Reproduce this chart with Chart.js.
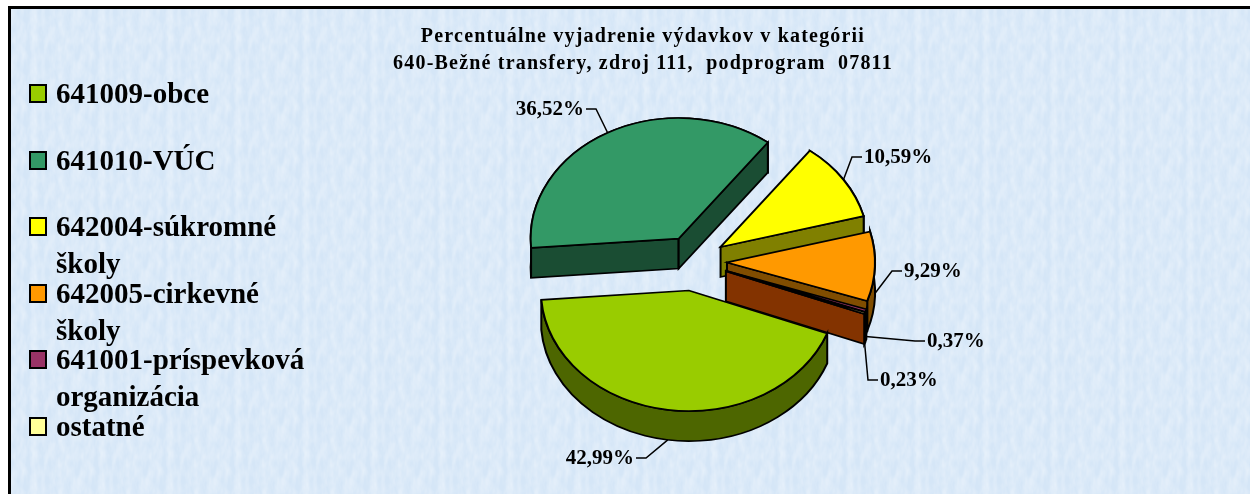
<!DOCTYPE html>
<html lang="sk">
<head>
  <meta charset="UTF-8" />
  <title>Percentuálne vyjadrenie výdavkov</title>
  <script src="https://cdn.jsdelivr.net/npm/chart.js"></script>
  <style>
    html, body { margin: 0; width: 1250px; height: 494px; overflow: hidden; background: #fff; }
    #panel {
      position: absolute; left: 8px; top: 6px; width: 1242px; height: 488px;
      border-left: 3px solid #000; border-top: 3px solid #000;
      background-color: #d5e6f7;
      background-image: url("data:image/svg+xml,%3Csvg xmlns='http://www.w3.org/2000/svg' width='68' height='52'%3E%3Cfilter id='n' x='0' y='0' width='100%25' height='100%25'%3E%3CfeTurbulence type='fractalNoise' baseFrequency='.14 .06' numOctaves='3' seed='4' stitchTiles='stitch'/%3E%3CfeColorMatrix values='0 0 0 0 1 0 0 0 0 1 0 0 0 0 1 .7 0 0 0 -.2'/%3E%3C/filter%3E%3Crect width='68' height='52' filter='url(%23n)'/%3E%3C/svg%3E");
    }
    #legend { position: absolute; left: 0; top: 0; font: bold 29px/37px "Liberation Serif", serif; color: #000; }
    .item { position: absolute; left: 56px; width: 255px; }
    .swatch {
      position: absolute; left: -27px; top: 9px; width: 14px; height: 15px;
      border: 2px solid #000;
    }
  </style>
</head>
<body>
  <div id="panel"></div>
  <canvas id="pie" width="1250" height="494" style="position:absolute;left:0;top:0"></canvas>
  <div id="legend"></div>

  <script>
    const categories = ['641009-obce', '641010-VÚC', '642004-súkromné školy', '642005-cirkevné školy', '641001-príspevková organizácia', 'ostatné'];
    const shares = [42.99, 36.52, 10.59, 9.29, 0.37, 0.23];
    const topColors = ['#99cc00', '#339966', '#ffff00', '#ff9900', '#993366', '#ffff99'];
    const wallColors = ['#4d6600', '#1a4d33', '#808000', '#804d00', '#4d1a33', '#833300'];
    const titleLines = ['Percentuálne vyjadrenie výdavkov v kategórii', '640-Bežné transfery, zdroj 111,  podprogram  07811'];

    // vzhlad kolaca
    const center = { x: 694, y: 261.5 };
    const squash = 0.815;
    const depth = 30;
    const explode = [36, 32, 32, 33, 34, 34];
    const wallOrder = [1, 2, 3, 4, 5, 0];
    // popisky: kotva textu [x, y], smer lomenej ciary a pokles kotvy na stene
    const labelPos = [[634, 458], [584, 109], [864, 157], [904, 271], [927, 341], [880, 380]];
    const labelSide = [1, 1, -1, -1, -1, -1];
    const labelDrop = [30, 0, 0, 27, 26, 30];

    const legendBox = document.getElementById('legend');
    categories.forEach((name, i) => {
      const item = document.createElement('div');
      item.className = 'item';
      item.style.top = (75 + 66.5 * i) + 'px';
      item.textContent = name;
      const sw = document.createElement('span');
      sw.className = 'swatch';
      sw.style.background = topColors[i];
      item.appendChild(sw);
      legendBox.appendChild(item);
    });

    const pie3d = {
      id: 'pie3d',
      beforeDraw(chart) {
        chart.ctx.letterSpacing = '1.2px';
      },
      // rozsunutie vysekov
      afterDatasetsUpdate(chart) {
        chart.getDatasetMeta(0).data.forEach((arc, i) => {
          const mid = (arc.startAngle + arc.endAngle) / 2;
          arc.x = center.x + Math.cos(mid) * explode[i];
          arc.y = center.y + Math.sin(mid) * explode[i];
        });
      },
      beforeDatasetsDraw(chart) {
        const ctx = chart.ctx;
        ctx.letterSpacing = '0px';
        ctx.save();
        ctx.translate(0, center.y);
        ctx.scale(1, squash);
        ctx.translate(0, -center.y);
        const d = depth / squash;
        const arcs = chart.getDatasetMeta(0).data;
        ctx.lineWidth = 2;
        ctx.strokeStyle = '#000';
        ctx.lineJoin = 'miter';
        const cut = (a, t) => {
          const px = a.x + Math.cos(t) * a.outerRadius;
          const py = a.y + Math.sin(t) * a.outerRadius;
          ctx.beginPath();
          ctx.moveTo(a.x, a.y);
          ctx.lineTo(px, py);
          ctx.lineTo(px, py + d);
          ctx.lineTo(a.x, a.y + d);
          ctx.closePath();
          ctx.fill();
          ctx.stroke();
        };
        wallOrder.forEach(i => {
          const a = arcs[i];
          ctx.fillStyle = wallColors[i];
          ctx.beginPath();
          ctx.arc(a.x, a.y, a.outerRadius, a.startAngle, a.endAngle);
          ctx.arc(a.x, a.y + d, a.outerRadius, a.endAngle, a.startAngle, true);
          ctx.closePath();
          ctx.fill();
          ctx.stroke();
          // len rezy otocene k divakovi
          if (Math.cos(a.startAngle) < 0) cut(a, a.startAngle);
          if (Math.cos(a.endAngle) > 0) cut(a, a.endAngle);
        });
      },
      afterDatasetsDraw(chart) {
        const ctx = chart.ctx;
        ctx.restore();
        // odkazove ciary a hodnoty
        const arcs = chart.getDatasetMeta(0).data;
        ctx.save();
        ctx.font = 'bold 21px "Liberation Serif", serif';
        ctx.fillStyle = '#000';
        ctx.textBaseline = 'middle';
        ctx.strokeStyle = '#000';
        ctx.lineWidth = 1.5;
        arcs.forEach((a, i) => {
          const mid = (a.startAngle + a.endAngle) / 2;
          const ax = a.x + Math.cos(mid) * a.outerRadius;
          const ay = center.y + (a.y - center.y + Math.sin(mid) * a.outerRadius) * squash + labelDrop[i];
          const [tx, ty] = labelPos[i];
          const side = labelSide[i];
          ctx.beginPath();
          ctx.moveTo(ax, ay);
          ctx.lineTo(tx + side * 12, ty);
          ctx.lineTo(tx + side * 2, ty);
          ctx.stroke();
          ctx.textAlign = side > 0 ? 'right' : 'left';
          ctx.fillText(shares[i].toFixed(2).replace('.', ',') + '%', tx, ty + 1);
        });
        ctx.restore();
      }
    };

    new Chart(document.getElementById('pie'), {
      type: 'pie',
      data: {
        labels: categories,
        datasets: [{
          data: shares,
          backgroundColor: topColors,
          borderColor: '#000',
          borderWidth: 2,
          borderJoinStyle: 'miter',
          clip: false
        }]
      },
      options: {
        responsive: false,
        animation: false,
        rotation: 110.8,
        radius: 148,
        layout: { padding: { left: 36 } },
        plugins: {
          legend: { display: false },
          tooltip: { enabled: false },
          title: {
            display: true,
            text: titleLines,
            color: '#000',
            font: { family: '"Liberation Serif", serif', size: 20, weight: 'bold', lineHeight: 1.35 },
            padding: { top: 23, bottom: 0 }
          }
        }
      },
      plugins: [pie3d]
    });
  </script>
</body>
</html>
